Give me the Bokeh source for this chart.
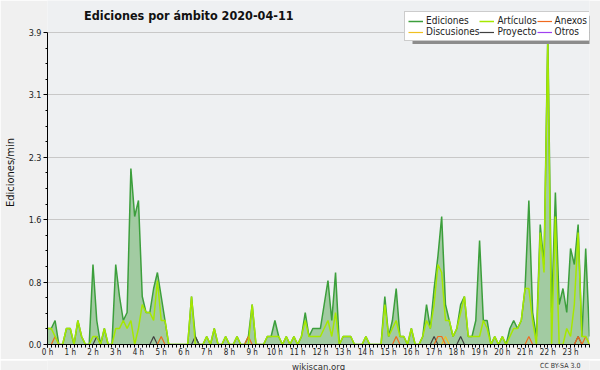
from bokeh.plotting import figure
from bokeh.layouts import column
from bokeh.models import (Range1d, FixedTicker, PrintfTickFormatter, Legend, LegendItem,
                          Label, ColumnDataSource, BoxAnnotation)
from bokeh.embed import file_html
from bokeh.resources import INLINE

# ---- data: edits per minute, 10-minute bins, 2020-04-11 ----
bin_minutes = list(range(0, 1440, 10))

ediciones = [
    0.2, 0.2, 0.3, 0, 0, 0.2, 0.2, 0, 0.3, 0.1, 0, 0,
    1.0, 0.3, 0, 0.2, 0, 0, 1.0, 0.6, 0.3, 0.4, 2.2, 1.6,
    1.8, 0.6, 0.4, 0.4, 0.7, 0.9, 0.6, 0.3, 0, 0, 0, 0,
    0, 0, 0.6, 0.1, 0, 0, 0.1, 0, 0.2, 0, 0, 0.1,
    0, 0, 0.1, 0, 0, 0.1, 0.5, 0, 0, 0, 0.1, 0.1,
    0.3, 0.1, 0, 0.1, 0, 0.1, 0, 0.1, 0.4, 0.1, 0.2, 0.2,
    0.2, 0.5, 0.8, 0.3, 0.9, 0, 0.1, 0.1, 0.1, 0, 0, 0,
    0.1, 0, 0, 0, 0, 0.6, 0.1, 0.3, 0.7, 0.1, 0.1, 0,
    0.2, 0, 0, 0.1, 0.5, 0.2, 0.7, 1.1, 1.6, 0.5, 0.3, 0.1,
    0.2, 0.5, 0.6, 0.1, 0.1, 0.3, 1.3, 0.3, 0.3, 0, 0.1, 0,
    0.1, 0, 0.2, 0.3, 0.2, 0.3, 0.7, 1.8, 0.4, 0.1, 1.5, 1.0,
    3.9, 0.4, 1.9, 0.5, 0.7, 0.4, 1.2, 1.0, 1.5, 0.1, 1.2, 0.1,
]
articulos = [
    0.2, 0.2, 0.1, 0, 0, 0.2, 0.2, 0, 0.3, 0.1, 0, 0,
    0.1, 0.1, 0, 0.2, 0, 0, 0.2, 0.2, 0.3, 0.2, 0.3, 0,
    0.2, 0.5, 0.4, 0.4, 0.3, 0.8, 0.3, 0.3, 0, 0, 0, 0,
    0, 0, 0.6, 0, 0, 0, 0.1, 0, 0.2, 0, 0, 0.1,
    0, 0, 0.1, 0, 0, 0, 0.5, 0, 0, 0, 0.1, 0.1,
    0.1, 0.1, 0, 0.1, 0, 0.1, 0, 0.1, 0.3, 0.1, 0.1, 0.1,
    0.1, 0.2, 0.3, 0.1, 0.4, 0, 0.1, 0.1, 0.1, 0, 0, 0,
    0.1, 0, 0, 0, 0, 0.5, 0.1, 0.2, 0.3, 0.1, 0.1, 0,
    0.2, 0, 0, 0.1, 0.3, 0.2, 0.5, 1.0, 0.9, 0.3, 0.3, 0.1,
    0.2, 0.4, 0.6, 0.1, 0.1, 0.1, 0.1, 0.3, 0.2, 0, 0.1, 0,
    0.1, 0, 0.1, 0.2, 0.2, 0.3, 0.7, 0.7, 0.3, 0, 1.4, 0.9,
    3.8, 0, 1.6, 0, 0, 0.2, 0.1, 0.5, 1.4, 0.1, 0.1, 0,
]
anexos = [
    0, 0, 0.1, 0, 0, 0, 0, 0, 0, 0, 0, 0,
    0, 0, 0, 0, 0, 0, 0, 0, 0, 0, 0, 0,
    0, 0, 0, 0, 0, 0, 0.1, 0, 0, 0, 0, 0,
    0, 0, 0, 0, 0, 0, 0, 0, 0, 0, 0, 0,
    0, 0, 0, 0, 0, 0.1, 0, 0, 0, 0, 0, 0,
    0, 0, 0, 0, 0, 0, 0, 0, 0, 0, 0, 0,
    0, 0, 0, 0, 0, 0, 0, 0, 0, 0, 0, 0,
    0, 0, 0, 0, 0, 0, 0, 0, 0.1, 0, 0, 0,
    0, 0, 0, 0, 0, 0, 0, 0.1, 0.1, 0, 0, 0,
    0, 0, 0, 0, 0, 0, 0, 0, 0, 0, 0, 0,
    0, 0, 0, 0, 0, 0, 0, 0.1, 0, 0, 0, 0,
    0, 0, 0, 0, 0, 0, 0, 0, 0.1, 0, 0.1, 0,
]
discusiones = [
    0, 0, 0, 0, 0, 0, 0, 0, 0, 0, 0, 0,
    0, 0, 0, 0, 0, 0, 0, 0, 0, 0, 0, 0,
    0, 0, 0, 0, 0, 0, 0, 0, 0, 0, 0, 0,
    0, 0, 0, 0, 0, 0, 0, 0, 0, 0, 0, 0,
    0, 0, 0, 0, 0, 0, 0, 0, 0, 0, 0, 0,
    0, 0, 0, 0, 0, 0, 0, 0, 0, 0, 0, 0,
    0, 0, 0, 0, 0, 0, 0, 0, 0, 0, 0, 0,
    0, 0, 0, 0, 0, 0, 0, 0, 0, 0, 0, 0,
    0, 0, 0, 0, 0, 0, 0, 0, 0, 0.1, 0, 0,
    0, 0, 0, 0, 0, 0, 0, 0, 0, 0, 0, 0,
    0, 0, 0, 0, 0, 0, 0, 0, 0, 0, 0, 0,
    0, 0, 0, 0, 0, 0, 0, 0, 0, 0, 0, 0,
]
proyecto = [
    0, 0, 0, 0, 0, 0, 0, 0, 0, 0, 0, 0,
    0, 0.1, 0, 0, 0, 0, 0, 0, 0, 0, 0, 0,
    0, 0, 0, 0, 0.1, 0, 0, 0, 0, 0, 0, 0,
    0, 0, 0, 0.1, 0, 0, 0, 0, 0, 0, 0, 0,
    0, 0, 0, 0, 0, 0, 0, 0, 0, 0, 0, 0,
    0, 0, 0, 0, 0, 0, 0, 0, 0, 0, 0, 0,
    0, 0, 0, 0, 0, 0, 0, 0, 0, 0, 0, 0,
    0, 0, 0, 0, 0, 0, 0, 0, 0, 0, 0, 0,
    0, 0, 0, 0, 0, 0, 0.1, 0, 0, 0, 0, 0,
    0, 0.1, 0, 0, 0, 0, 0, 0, 0, 0, 0, 0,
    0, 0, 0, 0, 0, 0, 0, 0, 0, 0, 0, 0,
    0, 0, 0, 0, 0, 0, 0, 0, 0.1, 0, 0, 0,
]
otros = [0] * 144

hour_ticks = list(range(24))
hour_labels = {h: f"{h} h" for h in hour_ticks}
y_ticks = [0, 0.78, 1.56, 2.34, 3.12, 3.9]
y_minor = [0.195, 0.39, 0.585, 0.975, 1.17, 1.365, 1.755, 1.95, 2.145,
           2.535, 2.73, 2.925, 3.315, 3.51, 3.705]

title_text = "Ediciones por ámbito  2020-04-11"
site_text = "wikiscan.org"
license_text = "CC BY-SA 3.0"

# ---- figure ----
FONT = "DejaVu Sans Condensed, DejaVu Sans"
BG = "#f0f0f0"
src = ColumnDataSource(dict(
    t=[m / 60 for m in bin_minutes], ed=ediciones, art=articulos, anx=anexos,
    dis=discusiones, pro=proyecto, otr=otros))

p = figure(width=600, height=359, output_backend="svg", toolbar_location=None,
           x_range=Range1d(0, bin_minutes[-1] / 60), y_range=Range1d(0, 4.3),
           min_border_left=46, min_border_right=11, min_border_top=0, min_border_bottom=15)
p.background_fill_color = "#eef0f2"
p.border_fill_color = BG
p.outline_line_color = None

p.xgrid.visible = False
p.ygrid.ticker = FixedTicker(ticks=y_ticks)
p.ygrid.grid_line_color = "#c8c8c8"

ya = p.yaxis[0]
ya.ticker = FixedTicker(ticks=y_ticks, minor_ticks=y_minor)
ya.formatter = PrintfTickFormatter(format="%.1f")
ya.bounds = (0, 3.9)
ya.major_tick_out = 4
ya.major_tick_in = 0
ya.minor_tick_out = 2
ya.minor_tick_in = 0
ya.axis_line_color = "black"
ya.major_label_text_font = FONT
ya.major_label_text_font_size = "9px"
ya.major_label_text_color = "#222222"
ya.major_label_standoff = 2
ya.axis_label = "Ediciones/min"
ya.axis_label_text_font = FONT
ya.axis_label_text_font_size = "11px"
ya.axis_label_text_font_style = "normal"
ya.axis_label_text_color = "#111111"
ya.axis_label_standoff = 9

xa = p.xaxis[0]
xa.ticker = FixedTicker(ticks=hour_ticks, minor_ticks=[m / 60 for m in bin_minutes])
xa.major_label_overrides = hour_labels
xa.major_tick_out = 3
xa.major_tick_in = 0
xa.minor_tick_out = 3
xa.minor_tick_in = 0
xa.axis_line_color = "black"
xa.major_label_text_font = FONT
xa.major_label_text_font_size = "8px"
xa.major_label_text_color = "#222222"
xa.major_label_standoff = 0

p.varea(x="t", y1=0, y2="ed", source=src, fill_color="#a2cba2", fill_alpha=1)
r_ed = p.line("t", "ed", source=src, line_color="#3c9f3c", line_width=1.5)
r_otr = p.line("t", "otr", source=src, line_color="#a040f0", line_width=1.2)
r_dis = p.line("t", "dis", source=src, line_color="#f0c020", line_width=1.2)
r_pro = p.line("t", "pro", source=src, line_color="#404040", line_width=1.2)
r_anx = p.line("t", "anx", source=src, line_color="#f06a1e", line_width=1.2)
r_art = p.line("t", "art", source=src, line_color="#a6e800", line_width=1.5)

# legend drop shadow: grey box a few px below / right of the legend box
shadow = BoxAnnotation(left=16.05, right=24.4, top=4.11, bottom=3.755,
                       fill_color="#8c8c8c", fill_alpha=1, line_color=None,
                       level="overlay")
p.add_layout(shadow)

items = [("Ediciones", r_ed), ("Discusiones", r_dis), ("Artículos", r_art),
         ("Proyecto", r_pro), ("Anexos", r_anx), ("Otros", r_otr)]
legend = Legend(items=[LegendItem(label=l, renderers=[r]) for l, r in items],
                ncols=3, location=(357, 303), margin=0, padding=3, spacing=0,
                label_text_font=FONT, label_text_font_size="10px",
                label_standoff=3, glyph_width=15, glyph_height=10, label_height=10,
                label_text_color="#222222",
                border_line_color="#999999", background_fill_color="white",
                background_fill_alpha=1, level="overlay")
p.add_layout(legend)

p.add_layout(Label(x=6.3, y=4.1125, text=title_text, text_align="center",
                   text_baseline="middle", text_font=FONT, text_font_size="12.5px",
                   text_font_style="bold", text_color="#111111"))

# footer strip with the site and licence notes
f = figure(width=600, height=11, output_backend="svg", toolbar_location=None,
           x_range=Range1d(0, 600), y_range=Range1d(0, 11),
           min_border_left=0, min_border_right=0, min_border_top=0, min_border_bottom=0)
f.axis.visible = False
f.grid.visible = False
f.background_fill_color = BG
f.border_fill_color = BG
f.outline_line_color = None
f.add_layout(Label(x=300, y=5.5, text=site_text, text_align="center",
                   text_baseline="middle", text_font=FONT, text_font_size="9.5px",
                   text_color="#333333"))
f.add_layout(Label(x=590, y=5.5, text=license_text, text_align="right",
                   text_baseline="middle", text_font=FONT, text_font_size="7px",
                   text_color="#333333"))

layout = column(p, f, spacing=0)
open("out.html", "w").write(file_html(layout, INLINE))
